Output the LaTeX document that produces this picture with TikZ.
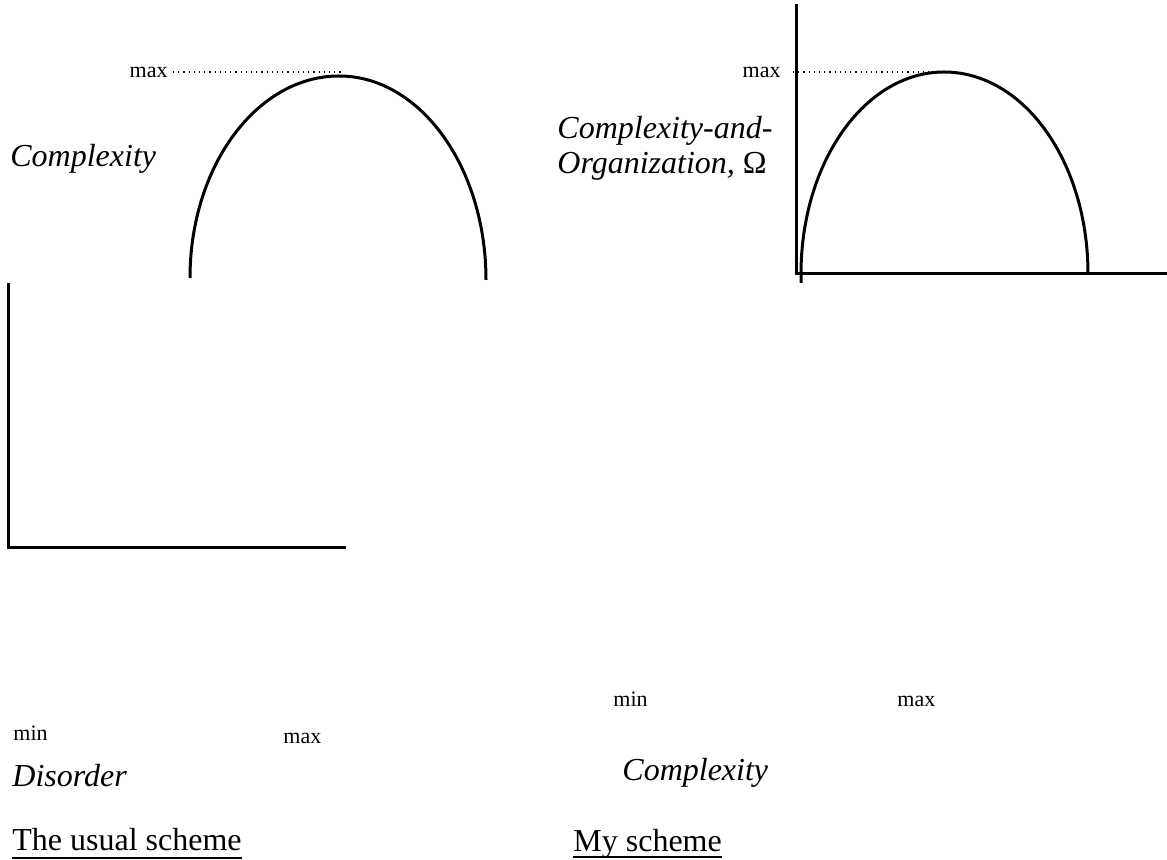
\documentclass[tikz,border=0pt]{standalone}
\usepackage{fontspec}
\setmainfont{Liberation Serif}

\tikzstyle{axis}=[line width=1.5pt]
\tikzstyle{curve}=[line width=1.5pt]
\tikzstyle{level}=[dotted, line width=0.6pt]
\tikzstyle{uline}=[line width=0.6pt]
\tikzstyle{tick}=[inner sep=0pt, anchor=base west, font=\fontsize{11}{13}\selectfont]
\tikzstyle{axislabel}=[inner sep=0pt, anchor=base west, font=\fontsize{16}{18}\selectfont\itshape]
\tikzstyle{caption}=[inner sep=0pt, anchor=base west, font=\fontsize{16}{18}\selectfont]

\begin{document}
\begin{tikzpicture}[x=0.5pt, y=-0.5pt]
            \useasboundingbox (0,0) rectangle (1167,860);
            % the usual scheme
            \draw[axis] (8,283) -- (8,548) -- (346,548);
            \draw[curve] (190,278) .. controls (190,166) and (257,76) .. (339,76)
                .. controls (420,76) and (486,167) .. (486,280);
            \coordinate (ldot) at (343,72);
            \node[tick, anchor=east] at (168,72) (lmax) {max};
            \draw[level] ([xshift=2.5pt]lmax.east) -- (ldot);
            \node[axislabel] at (10,167) (lcx) {Complexity};
            \node[tick] at (13,740) (lmin) {min};
            \node[tick] at (283,743) (lmx) {max};
            \node[axislabel] at (12,786) (ldis) {Disorder};
            \node[caption] at (12,850) (lcap) {The usual scheme};
            \draw[uline] ([yshift=-4pt]lcap.base west) -- ([yshift=-4pt]lcap.base east);
            % my scheme
            \draw[axis] (796,4) -- (796,274) -- (1167,274);
            \draw[curve] (801,283) -- (801,274) .. controls (801,162) and (865,72) .. (944,72)
                .. controls (1024,72) and (1088,162) .. (1088,274);
            \coordinate (rdot) at (945,72);
            \node[tick, anchor=east] at (781,72) (rmax) {max};
            \draw[level] ([xshift=6pt]rmax.east) -- (rdot);
            \node[axislabel] at (557,139) (rcx) {Complexity-and-};
            \node[axislabel] at (557,174) (rorg) {Organization, {\upshape Ω}};
            \node[tick] at (613,706) (rmin) {min};
            \node[tick] at (897,706) (rmx) {max};
            \node[axislabel] at (622,780) (rcomp) {Complexity};
            \node[caption] at (573,851) (rcap) {My scheme};
            \draw[uline] ([yshift=-3pt]rcap.base west) -- ([yshift=-3pt]rcap.base east);
        \end{tikzpicture}
\end{document}
